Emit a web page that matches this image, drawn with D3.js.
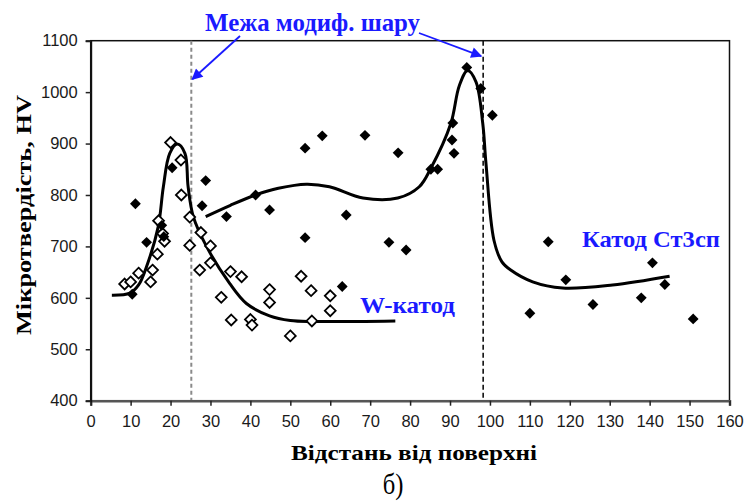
<!DOCTYPE html>
<html><head><meta charset="utf-8">
<script src="https://cdn.jsdelivr.net/npm/d3@7"></script>
<style>
html,body{margin:0;padding:0;background:#fff;}
svg{display:block;}
</style></head>
<body>
<svg id="chart" width="746" height="504"></svg>
<script>
// ---- data ----
const xTicks = [0,10,20,30,40,50,60,70,80,90,100,110,120,130,140,150,160];
const yTicks = [400,500,600,700,800,900,1000,1100];

// W-cathode (open diamonds): [distance, HV]
const wX  = [8.5,10,12,15,15.5,16.7,17,18,18.5,20,22.6,22.7,24.8,24.8,27.3,27.6,30,30,32.7,35,35.2,37.8,40,40.4,44.8,44.8,50,52.7,55.2,55.4,60,60];
const wHV = [627,631,648,631,654,685,750,725,710,902,868,800,757,702,654,727,701,668,601,651,557,641,558,547,616,591,526,642,614,555,604,575];

// St3sp cathode (filled diamonds)
const sX  = [10.4,11.2,14,17.8,18.3,20.4,27.9,28.8,34,41.3,44.8,53.7,53.7,58,63,64,68.7,74.7,77,79,85.2,86.9,90.5,90.7,91,94.2,97.7,100.6,110,114.6,119,125.8,137.9,140.7,143.8,150.9];
const sHV = [607,783,708,741,719,853,779,828,758,800,771,891,717,915,622,761,916,708,882,693,850,850,907,940,881,1048,1007,955,570,709,635,587,600,668,626,559];

// fitted trend curves
const wCurveX  = [5.3,9.8,12,14,16.9,18.2,19.8,21.7,23.6,24.4,25.7,29,34.8,39,44.8,50,55.7,76.3];
const wCurveHV = [605,609,625,661,738,816,881,899,881,816,758,700,628,589,565,556,554,555];
const sCurveX  = [28.8,35,41.3,47,54,59.8,68.2,76.9,82.3,85.2,90.2,92.3,94.4,96.5,98.2,99,101,103,105.2,110.7,118.2,130.7,145];
const sCurveHV = [758,780,800,813,821,816,794,794,816,852,939,1012,1042,1020,939,862,712,670,654,631,619,625,642];

// boundaries of modified layer
const boundaries = [25.2, 98.3];

// ---- drawing ----
const svg = d3.select("#chart");
const L = 90.7, R = 729.5, T = 40.7, B = 400.7;
const x = d3.scaleLinear().domain([0,160]).range([L,R]);
const y = d3.scaleLinear().domain([400,1100]).range([B,T]);

// frame
svg.append("rect").attr("x",L).attr("y",T).attr("width",R-L).attr("height",B-T)
  .attr("fill","none").attr("stroke","#111").attr("stroke-width",1.5);

// boundaries
svg.append("line").attr("x1",x(boundaries[0])).attr("x2",x(boundaries[0]))
  .attr("y1",T).attr("y2",B).attr("stroke","#8a8a8a").attr("stroke-width",2).attr("stroke-dasharray","4,3");
svg.append("line").attr("x1",x(boundaries[1])).attr("x2",x(boundaries[1]))
  .attr("y1",T).attr("y2",B).attr("stroke","#111").attr("stroke-width",1.6).attr("stroke-dasharray","5,3");

// axes
const xAxis = d3.axisBottom(x).tickValues(xTicks).tickSize(5).tickPadding(10).tickFormat(d3.format("d"));
const gx = svg.append("g").attr("transform",`translate(0,${B})`).call(xAxis);
gx.select(".domain").attr("stroke","#555").attr("stroke-width",2.5);
gx.selectAll(".tick line").attr("stroke","#222").attr("stroke-width",1.5);
gx.selectAll(".tick text").attr("font-family","'Liberation Sans', Arial, sans-serif").attr("font-size",16.5).attr("fill","#1a1a1a");

const yAxis = d3.axisLeft(y).tickValues(yTicks).tickSize(5).tickPadding(8).tickFormat(d3.format("d"));
const gy = svg.append("g").attr("transform",`translate(${L},0)`).call(yAxis);
gy.select(".domain").attr("stroke","#111").attr("stroke-width",2);
gy.selectAll(".tick line").attr("stroke","#222").attr("stroke-width",1.5);
gy.selectAll(".tick text").attr("font-family","'Liberation Sans', Arial, sans-serif").attr("font-size",16.5).attr("fill","#1a1a1a");

// curves
const line = d3.line().x(d=>x(d[0])).y(d=>y(d[1])).curve(d3.curveCatmullRom.alpha(0.5));
svg.append("path").datum(wCurveX.map((v,i)=>[v,wCurveHV[i]]))
  .attr("d",line).attr("fill","none").attr("stroke","#000").attr("stroke-width",3);
svg.append("path").datum(sCurveX.map((v,i)=>[v,sCurveHV[i]]))
  .attr("d",line).attr("fill","none").attr("stroke","#000").attr("stroke-width",3);

// markers
const diamond = d3.symbol().type(d3.symbolDiamond2 || d3.symbolDiamond).size(75);
const diamondF = d3.symbol().type(d3.symbolDiamond2 || d3.symbolDiamond).size(75);
svg.append("g").selectAll("path").data(wX.map((v,i)=>[v,wHV[i]])).join("path")
  .attr("transform",d=>`translate(${x(d[0])},${y(d[1])})`)
  .attr("d",diamond).attr("fill","#fff").attr("stroke","#000").attr("stroke-width",1.8);
svg.append("g").selectAll("path").data(sX.map((v,i)=>[v,sHV[i]])).join("path")
  .attr("transform",d=>`translate(${x(d[0])},${y(d[1])})`)
  .attr("d",diamondF).attr("fill","#000");

// annotations
const blue = "#1a1aff";
const serif = "'Liberation Serif','Times New Roman',serif";
svg.append("text").attr("x",205).attr("y",31).attr("font-family",serif).attr("font-weight","bold")
  .attr("font-size",25).attr("fill",blue).attr("textLength",215).attr("lengthAdjust","spacingAndGlyphs")
  .text("Межа модиф. шару");
svg.append("text").attr("x",360).attr("y",313).attr("font-family",serif).attr("font-weight","bold")
  .attr("font-size",24).attr("fill",blue).attr("textLength",95).attr("lengthAdjust","spacingAndGlyphs")
  .text("W-катод");
svg.append("text").attr("x",582).attr("y",247).attr("font-family",serif).attr("font-weight","bold")
  .attr("font-size",24).attr("fill",blue).attr("textLength",138).attr("lengthAdjust","spacingAndGlyphs")
  .text("Катод Ст3сп");

// arrows
const defs = svg.append("defs");
defs.append("marker").attr("id","ah").attr("viewBox","0 0 10 10").attr("refX",9).attr("refY",5)
  .attr("markerWidth",14).attr("markerHeight",11).attr("markerUnits","userSpaceOnUse")
  .attr("orient","auto").append("path").attr("d","M0,0 L10,5 L0,10 Z").attr("fill",blue);
svg.append("line").attr("x1",240).attr("y1",36).attr("x2",x(boundaries[0])+1).attr("y2",y(1025))
  .attr("stroke",blue).attr("stroke-width",1.8).attr("marker-end","url(#ah)");
svg.append("line").attr("x1",419).attr("y1",33).attr("x2",x(boundaries[1])-2).attr("y2",y(1070))
  .attr("stroke",blue).attr("stroke-width",1.8).attr("marker-end","url(#ah)");

// axis titles
svg.append("text").attr("transform",`translate(31,215) rotate(-90)`)
  .attr("text-anchor","middle").attr("font-family",serif).attr("font-weight","bold")
  .attr("font-size",22).attr("fill","#000").attr("textLength",240).attr("lengthAdjust","spacingAndGlyphs")
  .text("Мікротвердість, HV");
svg.append("text").attr("x",414).attr("y",460).attr("text-anchor","middle").attr("font-family",serif)
  .attr("font-weight","bold").attr("font-size",22).attr("fill","#000")
  .attr("textLength",246).attr("lengthAdjust","spacingAndGlyphs")
  .text("Відстань від поверхні");
svg.append("text").attr("transform","translate(393,494) scale(0.82,1)").attr("text-anchor","middle")
  .attr("font-family",serif).attr("font-size",30).attr("fill","#000").text("б)");
</script>
</body></html>
